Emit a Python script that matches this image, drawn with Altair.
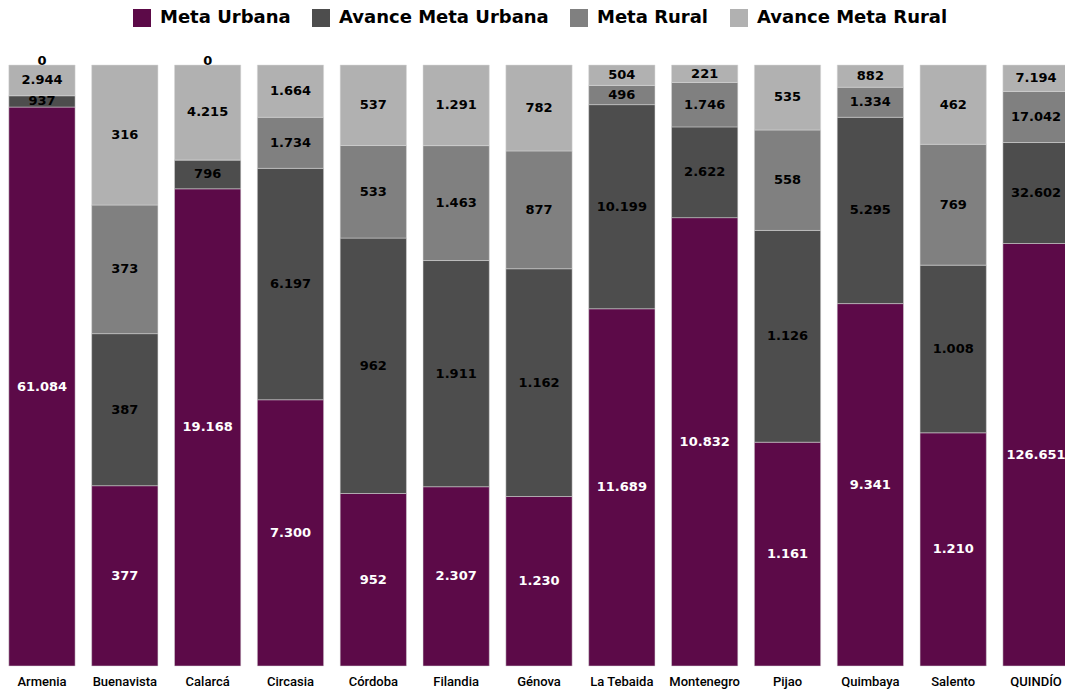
import altair as alt
import pandas as pd

municipios = ["Armenia", "Buenavista", "Calarcá", "Circasia", "Córdoba", "Filandia",
              "Génova", "La Tebaida", "Montenegro", "Pijao", "Quimbaya", "Salento", "QUINDÍO"]

series_names = ["Meta Urbana", "Avance Meta Urbana", "Meta Rural", "Avance Meta Rural"]
series_colors = ["#5c0a48", "#4d4d4d", "#808080", "#b1b1b1"]

# values shown as labels
meta_urbana = [61084, 377, 19168, 7300, 952, 2307, 1230, 11689, 10832, 1161, 9341, 1210, 126651]
avance_meta_urbana = [937, 387, 796, 6197, 962, 1911, 1162, 10199, 2622, 1126, 5295, 1008, 32602]
meta_rural = [0, 373, 0, 1734, 533, 1463, 877, 496, 1746, 558, 1334, 769, 17042]
avance_meta_rural = [2944, 316, 4215, 1664, 537, 1291, 782, 504, 221, 535, 882, 462, 7194]

# segment shares (%) as drawn in the picture
pct_meta_urbana = [93.0, 30.0, 79.4, 44.3, 28.7, 29.8, 28.2, 59.5, 74.6, 37.2, 60.3, 38.8, 70.3]
pct_avance_meta_urbana = [1.9, 25.3, 4.8, 38.5, 42.5, 37.6, 37.9, 34.0, 15.1, 35.2, 31.0, 27.9, 16.8]
pct_meta_rural = [0.0, 21.4, 0.0, 8.5, 15.4, 19.1, 19.6, 3.2, 7.4, 16.7, 5.0, 20.1, 8.5]
pct_avance_meta_rural = [5.1, 23.3, 15.8, 8.7, 13.4, 13.4, 14.3, 3.4, 2.9, 10.8, 3.7, 13.2, 4.4]

series = [
    (series_names[0], pct_meta_urbana, meta_urbana),
    (series_names[1], pct_avance_meta_urbana, avance_meta_urbana),
    (series_names[2], pct_meta_rural, meta_rural),
    (series_names[3], pct_avance_meta_rural, avance_meta_rural),
]

rows = []
for i, m in enumerate(municipios):
    for k, (name, pcts, vals) in enumerate(series):
        rows.append({
            "municipio": m,
            "serie": name,
            "orden": k,
            "pct": pcts[i],
            "valor": vals[i],
            "etiqueta": f"{vals[i]:,}".replace(",", "."),
        })
df = pd.DataFrame(rows)

x_enc = alt.X(
    "municipio:N",
    sort=municipios,
    scale=alt.Scale(paddingInner=0.2, paddingOuter=0.01),
    axis=alt.Axis(title=None, labelAngle=0, ticks=False, domain=False,
                  labelFont="Roboto", labelFontSize=13, labelFontWeight=500,
                  labelColor="black", labelPadding=9),
)

base = alt.Chart(df)

bars = base.mark_bar(stroke="#d9d9d9", strokeWidth=0.5).encode(
    x=x_enc,
    y=alt.Y("pct:Q", stack="normalize", axis=None, scale=alt.Scale(domain=[0, 1])),
    color=alt.Color(
        "serie:N",
        scale=alt.Scale(domain=series_names, range=series_colors),
        legend=alt.Legend(
            title=None, orient="none", legendX=125, legendY=-56,
            direction="horizontal", symbolType="square", symbolSize=324,
            symbolStrokeWidth=0, symbolOpacity=1,
            labelFont="DejaVu Sans", labelFontSize=18, labelFontWeight="bold",
            labelColor="black", labelOffset=9, columnPadding=21, padding=0,
            labelLimit=400,
        ),
    ),
    order=alt.Order("orden:Q", sort="ascending"),
)

stacked = base.transform_stack(
    stack="pct", groupby=["municipio"], as_=["y0", "y1"],
    sort=[alt.SortField("orden", order="ascending")], offset="normalize",
).transform_calculate(ymid="(datum.y0 + datum.y1) / 2", ytop="1")

label_color = alt.condition("datum.serie == 'Meta Urbana'", alt.value("white"), alt.value("black"))

text_mid = stacked.transform_filter("datum.valor != 0").mark_text(
    font="DejaVu Sans", fontSize=13, fontWeight="bold", baseline="middle",
).encode(
    x=x_enc,
    y=alt.Y("ymid:Q", axis=None, scale=alt.Scale(domain=[0, 1])),
    text="etiqueta:N",
    color=label_color,
)

text_zero = stacked.transform_filter("datum.valor == 0").mark_text(
    font="DejaVu Sans", fontSize=13, fontWeight="bold", baseline="middle", dy=-4,
).encode(
    x=x_enc,
    y=alt.Y("ytop:Q", axis=None, scale=alt.Scale(domain=[0, 1])),
    text="etiqueta:N",
    color=alt.value("black"),
)

chart = alt.layer(bars, text_mid, text_zero).properties(
    width=1062,
    height=601,
    autosize=alt.AutoSizeParams(type="none"),
    padding={"left": 0, "top": 57, "right": -5, "bottom": 26},
    background="white",
).configure_view(stroke=None)

chart.save("out.html", embed_options={"renderer": "svg", "actions": False})
